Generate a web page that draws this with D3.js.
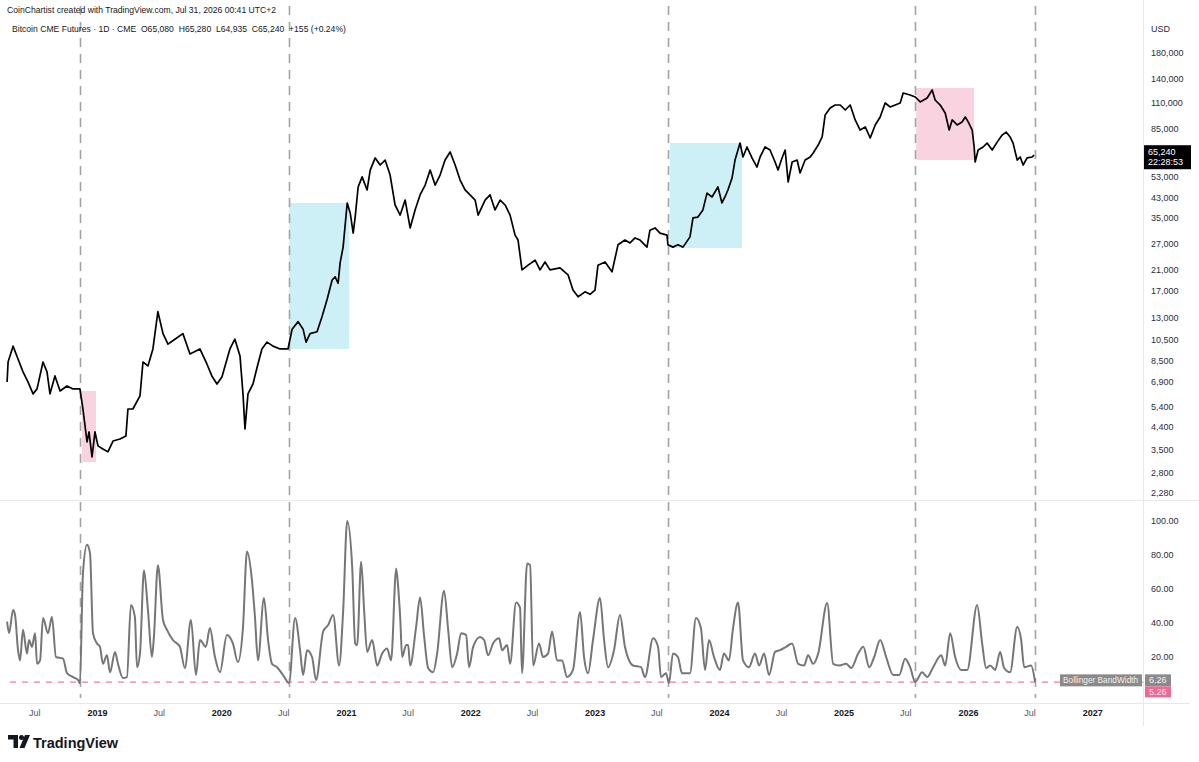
<!DOCTYPE html>
<html>
<head>
<meta charset="utf-8">
<script src="https://cdn.jsdelivr.net/npm/d3@7"></script>
<style>
  body { margin: 0; background: #fff; font-family: "Liberation Sans", Arial, sans-serif; }
  svg { display: block; }
</style>
</head>
<body>
<svg id="chart" width="1199" height="762"></svg>
<script>
// ---- DATA (times are decimal years) ----
const priceTime = [
  2018.277,2018.285,2018.325,2018.365,2018.405,2018.445,2018.486,2018.518,2018.566,2018.598,
  2018.622,2018.662,2018.703,2018.759,2018.807,2018.863,2018.887,2018.920,2018.936,2018.960,
  2018.984,2019.008,2019.048,2019.088,2019.129,2019.185,2019.233,2019.249,2019.289,2019.346,
  2019.370,2019.410,2019.450,2019.490,2019.531,2019.571,2019.627,2019.691,2019.748,2019.828,
  2019.884,2019.924,2019.965,2020.005,2020.069,2020.109,2020.150,2020.174,2020.190,2020.214,
  2020.254,2020.294,2020.326,2020.367,2020.415,2020.471,2020.535,2020.568,2020.616,2020.656,
  2020.680,2020.712,2020.768,2020.809,2020.849,2020.889,2020.913,2020.937,2020.953,2020.977,
  2021.010,2021.034,2021.058,2021.074,2021.098,2021.130,2021.170,2021.195,2021.235,2021.275,
  2021.315,2021.355,2021.395,2021.436,2021.476,2021.516,2021.556,2021.596,2021.637,2021.677,
  2021.717,2021.757,2021.797,2021.838,2021.878,2021.918,2021.958,2021.998,2022.039,2022.063,
  2022.119,2022.159,2022.199,2022.240,2022.280,2022.320,2022.360,2022.384,2022.416,2022.465,
  2022.521,2022.561,2022.601,2022.641,2022.722,2022.786,2022.826,2022.867,2022.923,2022.963,
  2023.003,2023.027,2023.084,2023.140,2023.188,2023.244,2023.285,2023.325,2023.365,2023.421,
  2023.445,2023.486,2023.526,2023.582,2023.590,2023.630,2023.670,2023.711,2023.767,2023.791,
  2023.831,2023.871,2023.904,2023.944,2023.992,2024.024,2024.048,2024.072,2024.105,2024.129,
  2024.169,2024.193,2024.225,2024.265,2024.305,2024.330,2024.370,2024.410,2024.450,2024.474,
  2024.506,2024.531,2024.555,2024.587,2024.627,2024.651,2024.691,2024.732,2024.756,2024.796,
  2024.828,2024.852,2024.892,2024.932,2024.973,2025.013,2025.053,2025.093,2025.133,2025.174,
  2025.214,2025.254,2025.294,2025.334,2025.375,2025.415,2025.455,2025.479,2025.535,2025.576,
  2025.616,2025.672,2025.712,2025.736,2025.777,2025.817,2025.849,2025.873,2025.913,2025.953,
  2025.978,2026.002,2026.034,2026.050,2026.058,2026.082,2026.122,2026.154,2026.195,2026.235,
  2026.275,2026.307,2026.339,2026.363,2026.396,2026.420,2026.444,2026.476,2026.516,2026.532
];
const priceClose = [
  6870,8370,9800,8630,7590,6870,6100,6410,8370,7590,
  6100,7290,6280,6600,6410,6410,5250,3790,4180,3260,
  4180,3640,3530,3430,3820,3900,4020,5250,5250,5980,
  8370,8050,9530,13800,11100,10000,10500,11100,9070,9530,
  8210,7290,6730,7220,9530,10500,8890,6100,4310,6100,
  6730,8210,9530,10200,9800,9530,9530,11600,12500,11600,
  10200,11100,11300,13200,15600,18900,19500,18300,22400,26200,
  40600,36800,30100,35300,47600,52600,46200,56300,63500,59200,
  62200,53600,39800,36000,41800,31700,37900,44000,48500,56300,
  48500,53600,62200,67400,59200,51000,46200,44000,41800,36000,
  41800,44000,37900,41800,39800,36000,29500,28100,20900,21900,
  23000,20900,22600,20900,21300,19900,17100,16000,16800,16400,
  17100,21900,22600,20500,26800,28100,27300,28700,28100,26200,
  31000,31700,30100,29500,26800,26200,26800,26200,29000,35000,
  35300,37900,44800,43100,47600,40600,43100,46200,52000,62200,
  73600,64100,70800,63500,58000,64100,70800,68700,61000,56300,
  63500,68700,50000,61000,62200,54700,62200,64100,66700,72200,
  78200,97300,104300,107400,107400,102200,107400,92600,83800,86400,
  77400,88100,95400,109600,105300,107400,109600,121000,118700,116300,
  110700,115200,124700,112900,107400,99200,83800,92600,88100,90800,
  95400,90800,83800,70800,61000,68700,70800,73600,68700,74300,
  79700,82100,78200,73600,62200,64100,59200,63500,64100,65240
];

const bbwTime = [
  2018.277,2018.293,2018.325,2018.341,2018.365,2018.381,2018.405,2018.437,2018.453,2018.477,
  2018.502,2018.518,2018.542,2018.566,2018.606,2018.638,2018.670,2018.727,2018.759,2018.807,
  2018.847,2018.863,2018.887,2018.920,2018.944,2018.968,2019.000,2019.024,2019.048,2019.080,
  2019.105,2019.145,2019.169,2019.209,2019.241,2019.273,2019.305,2019.322,2019.346,2019.378,
  2019.410,2019.442,2019.458,2019.490,2019.531,2019.563,2019.611,2019.667,2019.707,2019.756,
  2019.796,2019.828,2019.876,2019.908,2019.949,2019.989,2020.045,2020.093,2020.133,2020.174,
  2020.206,2020.246,2020.270,2020.294,2020.342,2020.375,2020.407,2020.447,2020.495,2020.543,
  2020.592,2020.632,2020.656,2020.688,2020.728,2020.760,2020.817,2020.857,2020.897,2020.945,
  2020.977,2021.010,2021.050,2021.074,2021.090,2021.122,2021.146,2021.170,2021.211,2021.251,
  2021.291,2021.331,2021.363,2021.404,2021.420,2021.436,2021.452,2021.484,2021.500,2021.516,
  2021.564,2021.596,2021.629,2021.661,2021.701,2021.733,2021.789,2021.822,2021.854,2021.894,
  2021.926,2021.966,2021.990,2022.023,2022.079,2022.111,2022.143,2022.183,2022.232,2022.256,
  2022.296,2022.320,2022.368,2022.400,2022.416,2022.457,2022.481,2022.505,2022.553,2022.585,
  2022.625,2022.658,2022.698,2022.738,2022.778,2022.826,2022.883,2022.915,2022.947,2022.987,
  2023.043,2023.076,2023.108,2023.156,2023.204,2023.244,2023.309,2023.373,2023.405,2023.470,
  2023.510,2023.534,2023.574,2023.598,2023.630,2023.670,2023.703,2023.767,2023.815,2023.855,
  2023.888,2023.920,2023.960,2024.008,2024.040,2024.080,2024.113,2024.153,2024.193,2024.241,
  2024.289,2024.322,2024.362,2024.402,2024.450,2024.490,2024.539,2024.587,2024.635,2024.683,
  2024.715,2024.756,2024.796,2024.868,2024.916,2024.965,2025.021,2025.061,2025.117,2025.158,
  2025.206,2025.246,2025.294,2025.342,2025.399,2025.447,2025.495,2025.535,2025.576,2025.632,
  2025.672,2025.720,2025.785,2025.817,2025.857,2025.897,2025.945,2025.994,2026.074,2026.114,
  2026.146,2026.179,2026.219,2026.259,2026.291,2026.339,2026.396,2026.428,2026.452,2026.508,
  2026.540
];
const bbwValue = [
  40.8,34,47.6,44.7,24,18,36,22,30,26,
  34,16,18,43,34,43.5,20,19,10.5,8.2,
  6.5,4.5,69,86,81,34,28,26,16,21,
  11,23,16,7.6,8.2,50.6,43.5,14,22,71,
  47.6,20,31.8,74,41.8,36,30,26,13.5,41.8,
  9.4,30,26,37,20,11,33,28,17,37.6,
  82,65,43.5,18,54.7,30,16,14,9.4,4.7,
  43,24,9.4,24,20,6.5,35,38.8,44.7,15,
  46.5,100,73,28,27,76,47.6,23,30,15,
  22,25,18,72,61,43.5,20,27,27,15,
  37.6,55,31.8,13.5,11,22,59,36,14,22,
  34,33,14,26,31.8,30,21,28,31,24,
  27,16,52,49,10.5,75,74,15,28,20,
  22,35,18,18,8.2,12.4,46.5,20,10.5,30,
  54.7,30,14,24,44.7,26,15,14,8.2,31,
  26,8.2,10.5,4.7,22,20,10.5,10.5,43,37,
  12.4,30,20,12.4,22,18,37,52,18,14,
  22,15,22,9.4,23,24,26,28,16,15,
  21,16,22,51.7,16,15,16,13.5,22,26,
  14,20,30,20,9.4,9.4,19,14,5.3,11,
  8.2,14,21,15,34,20,12.4,12.4,50.6,28,
  13.5,15,12.4,23,13.5,11,37.6,30,14,15,
  5.3
];

const cycleMarks = [2018.863, 2020.543, 2023.590, 2025.576, 2026.540];

const zoneStart = [2018.879, 2020.543, 2023.606, 2025.584];
const zoneEnd   = [2018.992, 2021.026, 2024.185, 2026.050];
const zoneLow   = [3100, 9530, 25970, 62200];
const zoneHigh  = [6280, 40600, 73650, 127200];
const zoneKind  = ['bear', 'bull', 'bull', 'bear'];

const priceTicks = [180000,140000,110000,85000,69000,53000,43000,35000,27000,21000,17000,13000,10500,8500,6900,5400,4400,3500,2800,2280];
const bbwTicks = [20, 40, 60, 80, 100];
const timeTicks = ['2018-07-01','2019-01-01','2019-07-01','2020-01-01','2020-07-01','2021-01-01','2021-07-01',
  '2022-01-01','2022-07-01','2023-01-01','2023-07-01','2024-01-01','2024-07-01','2025-01-01','2025-07-01',
  '2026-01-01','2026-07-01','2027-01-01'];
const bbwThreshold = 5.26;
const bbwLast = 6.26;
const lastPrice = 65240;

// ---- helpers ----
function toDate(t) {
  const y = Math.floor(t);
  const a = Date.UTC(y, 0, 1), b = Date.UTC(y + 1, 0, 1);
  return new Date(a + (t - y) * (b - a));
}

const svg = d3.select('#chart');
const W = 1199;
const plotRight = 1143;
const priceTop = 0, priceBottom = 500;
const bbwTop = 500, bbwBottom = 703;
const font = '"Liberation Sans", Arial, sans-serif';

const x = d3.scaleUtc()
  .domain([toDate(2018.220), toDate(2027.408)])
  .range([0, plotRight]);
const y = d3.scaleLog()
  .domain([2127, 304700])
  .range([priceBottom, priceTop]);
const yb = d3.scaleLinear()
  .domain([0, 100])
  .range([691, 521]);

const defs = svg.append('defs');
defs.append('clipPath').attr('id', 'clipPrice')
  .append('rect').attr('x', 0).attr('y', priceTop).attr('width', plotRight).attr('height', priceBottom - priceTop);
defs.append('clipPath').attr('id', 'clipBbw')
  .append('rect').attr('x', 0).attr('y', bbwTop).attr('width', plotRight).attr('height', bbwBottom - bbwTop);

// zones
const zoneFill = { bear: '#f9d3df', bull: '#cdf0f6' };
svg.append('g').attr('clip-path', 'url(#clipPrice)')
  .selectAll('rect')
  .data(zoneStart.map((s, i) => i))
  .enter().append('rect')
  .attr('x', i => x(toDate(zoneStart[i])))
  .attr('width', i => x(toDate(zoneEnd[i])) - x(toDate(zoneStart[i])))
  .attr('y', i => y(zoneHigh[i]))
  .attr('height', i => y(zoneLow[i]) - y(zoneHigh[i]))
  .attr('fill', i => zoneFill[zoneKind[i]]);

// pane borders
svg.append('line').attr('x1', 0).attr('x2', W).attr('y1', priceBottom + 0.5).attr('y2', priceBottom + 0.5)
  .attr('stroke', '#e6e8ee');
svg.append('line').attr('x1', 0).attr('x2', 1190).attr('y1', bbwBottom + 0.5).attr('y2', bbwBottom + 0.5)
  .attr('stroke', '#e6e8ee');
svg.append('line').attr('x1', plotRight + 0.5).attr('x2', plotRight + 0.5).attr('y1', 0).attr('y2', 726)
  .attr('stroke', '#e6e8ee');

// cycle markers
svg.append('g').selectAll('line')
  .data(cycleMarks)
  .enter().append('line')
  .attr('x1', d => Math.round(x(toDate(d))) + 0.5)
  .attr('x2', d => Math.round(x(toDate(d))) + 0.5)
  .attr('y1', 6).attr('y2', 698)
  .attr('stroke', '#a3a3a3')
  .attr('stroke-width', 1.6)
  .attr('stroke-dasharray', '9,7');

// price line
const priceData = priceTime.map((t, i) => [toDate(t), priceClose[i]]);
svg.append('path')
  .datum(priceData)
  .attr('clip-path', 'url(#clipPrice)')
  .attr('fill', 'none')
  .attr('stroke', '#000')
  .attr('stroke-width', 1.7)
  .attr('stroke-linejoin', 'round')
  .attr('d', d3.line().x(d => x(d[0])).y(d => y(d[1])));

// bbw threshold
svg.append('line')
  .attr('x1', 10).attr('x2', plotRight)
  .attr('y1', yb(bbwThreshold)).attr('y2', yb(bbwThreshold))
  .attr('stroke', '#ea7f9b')
  .attr('stroke-width', 1.2)
  .attr('stroke-dasharray', '6,6');

// bbw line
const bbwData = bbwTime.map((t, i) => [toDate(t), bbwValue[i]]);
svg.append('path')
  .datum(bbwData)
  .attr('clip-path', 'url(#clipBbw)')
  .attr('fill', 'none')
  .attr('stroke', '#767676')
  .attr('stroke-width', 2)
  .attr('stroke-linejoin', 'round')
  .attr('d', d3.line().curve(d3.curveMonotoneX).x(d => x(d[0])).y(d => yb(d[1])));

// right price axis
const yAxis = d3.axisRight(y).tickValues(priceTicks).tickSize(0).tickPadding(8).tickFormat(d3.format(','));
const gy = svg.append('g').attr('transform', `translate(${plotRight},0)`).call(yAxis);
gy.select('.domain').remove();
gy.selectAll('text').attr('font-family', font).attr('font-size', 9).attr('fill', '#2a2e39');

svg.append('text').attr('x', 1151).attr('y', 32).text('USD')
  .attr('font-family', font).attr('font-size', 9).attr('fill', '#2a2e39');

// bbw axis
const ybAxis = d3.axisRight(yb).tickValues(bbwTicks).tickSize(0).tickPadding(8).tickFormat(d3.format('.2f'));
const gyb = svg.append('g').attr('transform', `translate(${plotRight},0)`).call(ybAxis);
gyb.select('.domain').remove();
gyb.selectAll('text').attr('font-family', font).attr('font-size', 9).attr('fill', '#2a2e39');

// time axis
const xAxis = d3.axisBottom(x)
  .tickValues(timeTicks.map(s => new Date(s + 'T00:00:00Z')))
  .tickSize(0).tickPadding(6)
  .tickFormat(d => d.getUTCMonth() === 0 ? String(d.getUTCFullYear()) : 'Jul');
const gx = svg.append('g').attr('transform', `translate(0,${bbwBottom + 1})`).call(xAxis);
gx.select('.domain').remove();
gx.selectAll('text')
  .attr('font-family', font).attr('font-size', 9)
  .attr('fill', d => d.getUTCMonth() === 0 ? '#131722' : '#50535e')
  .attr('font-weight', d => d.getUTCMonth() === 0 ? 'bold' : 'normal');

// last price label (covers the 69,000 tick like the original)
const py = y(lastPrice);
svg.append('rect').attr('x', 1144).attr('y', py - 10).attr('width', 47).attr('height', 24).attr('fill', '#000');
svg.append('text').attr('x', 1148).attr('y', py).text(d3.format(',')(lastPrice))
  .attr('font-family', font).attr('font-size', 9).attr('fill', '#fff');
svg.append('text').attr('x', 1148).attr('y', py + 10).text('22:28:53')
  .attr('font-family', font).attr('font-size', 9).attr('fill', '#fff');

// bbw labels
const by = yb(bbwLast);
svg.append('rect').attr('x', 1060).attr('y', by - 6).attr('width', 82).attr('height', 12).attr('fill', '#8a8a8a');
svg.append('text').attr('x', 1063).attr('y', by + 3).text('Bollinger BandWidth')
  .attr('font-family', font).attr('font-size', 8.3).attr('fill', '#f2f2f2');
svg.append('rect').attr('x', 1145).attr('y', by - 6).attr('width', 26).attr('height', 12).attr('fill', '#8a8a8a');
svg.append('text').attr('x', 1149).attr('y', by + 3).text(bbwLast.toFixed(2))
  .attr('font-family', font).attr('font-size', 9).attr('fill', '#f2f2f2');
svg.append('rect').attr('x', 1145).attr('y', by + 6).attr('width', 26).attr('height', 11).attr('fill', '#ee6a93');
svg.append('text').attr('x', 1149).attr('y', by + 15).text(bbwThreshold.toFixed(2))
  .attr('font-family', font).attr('font-size', 9).attr('fill', '#fde7ee');

// header
svg.append('text').attr('x', 7).attr('y', 13)
  .text('CoinChartist created with TradingView.com, Jul 31, 2026 00:41 UTC+2')
  .attr('font-family', font).attr('font-size', 8.6).attr('fill', '#131722');
svg.append('text').attr('x', 12).attr('y', 32)
  .text('Bitcoin CME Futures · 1D · CME  O65,080  H65,280  L64,935  C65,240  +155 (+0.24%)')
  .attr('font-family', font).attr('font-size', 8.6).attr('fill', '#131722')
  .style('white-space', 'pre');

// TradingView logo
const logo = svg.append('g').attr('fill', '#131722');
logo.append('path').attr('d', 'M8,735 H18 V748 H13.5 V739.5 H8 Z');
logo.append('circle').attr('cx', 21.5).attr('cy', 737.5).attr('r', 2.5);
logo.append('path').attr('d', 'M25,735 H30 L24.5,748 H19.5 Z');
svg.append('text').attr('x', 33).attr('y', 748)
  .text('TradingView')
  .attr('font-family', font).attr('font-size', 14.5).attr('font-weight', 'bold').attr('fill', '#131722');
</script>
</body>
</html>
